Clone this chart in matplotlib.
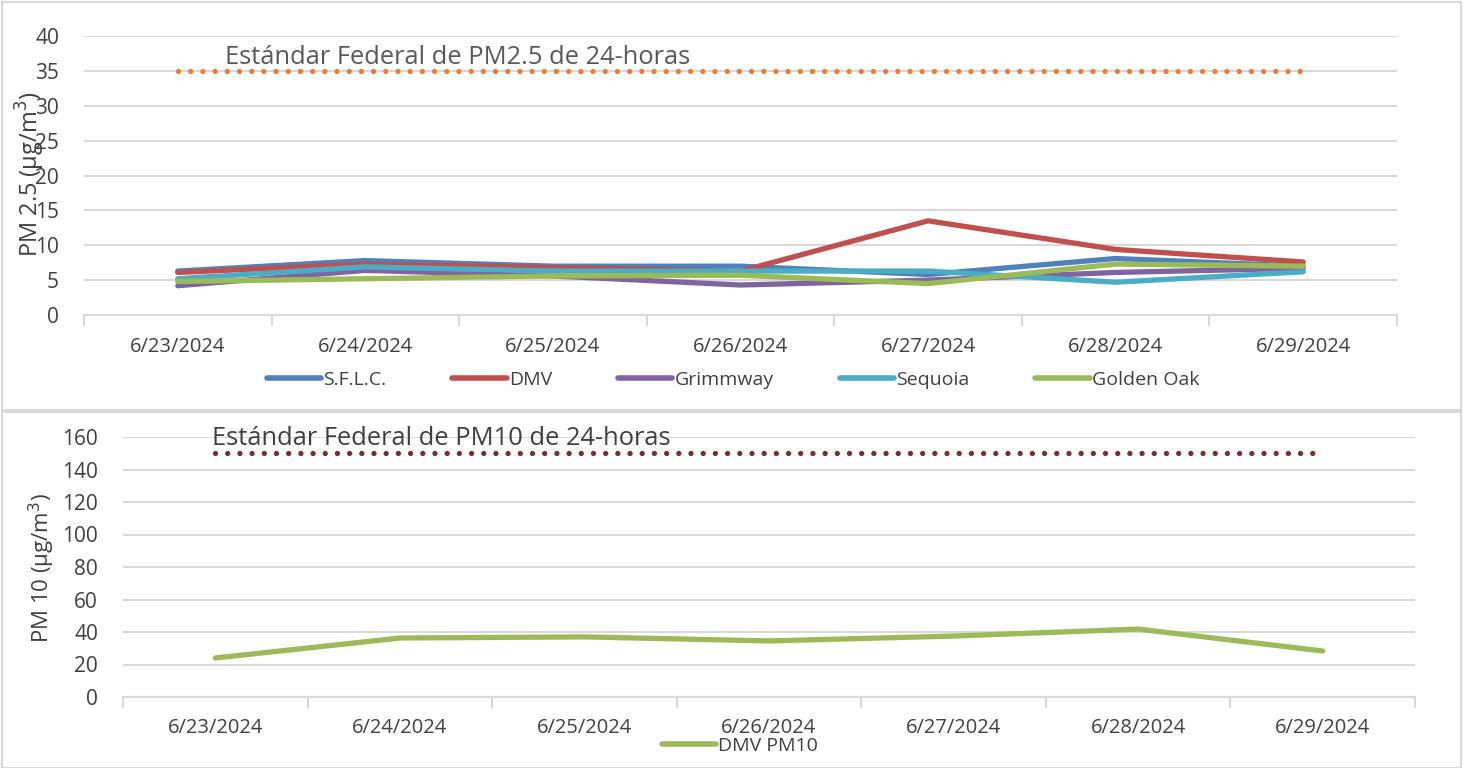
import matplotlib
matplotlib.use("Agg")
import matplotlib.pyplot as plt
from matplotlib.patches import Rectangle
from matplotlib.lines import Line2D

dates = ["6/23/2024", "6/24/2024", "6/25/2024", "6/26/2024", "6/27/2024", "6/28/2024", "6/29/2024"]

sflc = [6.3, 7.8, 7.0, 7.0, 5.8, 8.1, 7.0]
dmv = [6.1, 7.3, 6.8, 6.3, 13.5, 9.4, 7.6]
grimmway = [4.2, 6.4, 5.6, 4.3, 5.0, 6.1, 6.7]
sequoia = [5.2, 6.9, 6.3, 6.3, 6.3, 4.7, 6.2]
golden_oak = [4.8, 5.2, 5.6, 5.7, 4.5, 7.3, 7.0]
pm25_standard = [35] * 7

dmv_pm10 = [24, 36.3, 37, 34.5, 37.5, 41.8, 28.3]
pm10_standard = [150] * 7

pm25_series = [
    ("S.F.L.C.", sflc, "#4F81BD"),
    ("DMV", dmv, "#C0504D"),
    ("Grimmway", grimmway, "#8064A2"),
    ("Sequoia", sequoia, "#4BACC6"),
    ("Golden Oak", golden_oak, "#9BBB59"),
]

W, H = 1463, 768
fig = plt.figure(figsize=(W / 100, H / 100), dpi=100)

FONT = ["Open Sans", "DejaVu Sans"]
NARROW = ["Liberation Sans Narrow", "Open Sans", "DejaVu Sans"]
GRID = "#d9d9d9"
TXT = "#404040"

# panel frames
fig.patches.append(Rectangle((2 / W, 1 - 410 / H), (W - 4) / W, 408 / H, transform=fig.transFigure,
                             fill=False, edgecolor="#d9d9d9", linewidth=1.5))
fig.patches.append(Rectangle((2 / W, 0), (W - 4) / W, (H - 412) / H, transform=fig.transFigure,
                             fill=False, edgecolor="#d9d9d9", linewidth=1.5))


def style_axis(ax, ylim, yticks, xpad):
    x = list(range(len(dates)))
    ax.set_xlim(-0.5, len(dates) - 0.5)
    ax.set_ylim(*ylim)
    ax.set_yticks(yticks)
    ax.set_xticks(x)
    ax.set_xticklabels(dates, fontfamily=NARROW, fontsize=14.5, color=TXT)
    ax.set_xticks([i - 0.5 for i in range(len(dates) + 1)], minor=True)
    ax.tick_params(axis="x", which="major", length=0, pad=xpad)
    ax.tick_params(axis="x", which="minor", length=8, color=GRID, width=1.5)
    ax.tick_params(axis="y", length=0, labelsize=15, labelcolor=TXT, pad=18)
    for lab in ax.get_yticklabels():
        lab.set_fontfamily(FONT)
    for s in ["top", "right", "left"]:
        ax.spines[s].set_visible(False)
    ax.spines["bottom"].set_color(GRID)
    ax.spines["bottom"].set_linewidth(1.5)
    ax.yaxis.grid(True, color=GRID, linewidth=1.5)
    ax.set_axisbelow(True)
    return x


# ---- top panel ----
ax1 = fig.add_axes([84 / W, 1 - 315 / H, (1397 - 84) / W, (315 - 36) / H])
x = style_axis(ax1, (0, 40), range(0, 41, 5), 16)
for name, vals, col in pm25_series:
    ax1.plot(x, vals, color=col, linewidth=3.8, solid_capstyle="round", solid_joinstyle="round", label=name)
ax1.plot(x, pm25_standard, color="#ED7D31", linewidth=3.8, linestyle=(0, (0.01, 2.3)),
         dash_capstyle="round")
fig.text(225 / W, 1 - 64 / H, "Estándar Federal de PM2.5 de 24-horas",
         fontsize=18.4, color="#595959", fontfamily=FONT, va="baseline", ha="left")
fig.text(30 / W, 1 - 174 / H, "PM 2.5 (µg/m$^3$)", rotation=90, fontsize=17, color=TXT,
         fontfamily=FONT, ha="center", va="center")
handles = [Line2D([0], [0], color=c, linewidth=4, solid_capstyle="round") for _, _, c in pm25_series]
fig.legend(handles, [n for n, _, _ in pm25_series], loc="center", bbox_to_anchor=(733 / W, 1 - 380 / H),
           ncol=5, frameon=False, prop={"family": NARROW, "size": 14}, handlelength=2.8,
           handletextpad=0.1, columnspacing=3.4, labelcolor=TXT)

# ---- bottom panel ----
ax2 = fig.add_axes([123 / W, 1 - 697 / H, (1415 - 123) / W, (697 - 437) / H])
x = style_axis(ax2, (0, 160), range(0, 161, 20), 15)
ax2.plot(x, dmv_pm10, color="#9BBB59", linewidth=3.8, solid_capstyle="round", solid_joinstyle="round")
ax2.plot(x, pm10_standard, color="#7B2C2C", linewidth=3.8, linestyle=(0, (0.01, 2.3)),
         dash_capstyle="round")
fig.text(212 / W, 1 - 445 / H, "Estándar Federal de PM10 de 24-horas",
         fontsize=18.4, color=TXT, fontfamily=FONT, va="baseline", ha="left")
fig.text(42 / W, 1 - 568 / H, "PM 10 (µg/m$^3$)", rotation=90, fontsize=16, color=TXT,
         fontfamily=FONT, ha="center", va="center")
fig.legend([Line2D([0], [0], color="#9BBB59", linewidth=4, solid_capstyle="round")], ["DMV PM10"],
           loc="center", bbox_to_anchor=(740 / W, 1 - 746 / H), frameon=False,
           prop={"family": NARROW, "size": 14}, handlelength=2.8, handletextpad=0.1, labelcolor=TXT)

fig.savefig("out.png", dpi=100)
